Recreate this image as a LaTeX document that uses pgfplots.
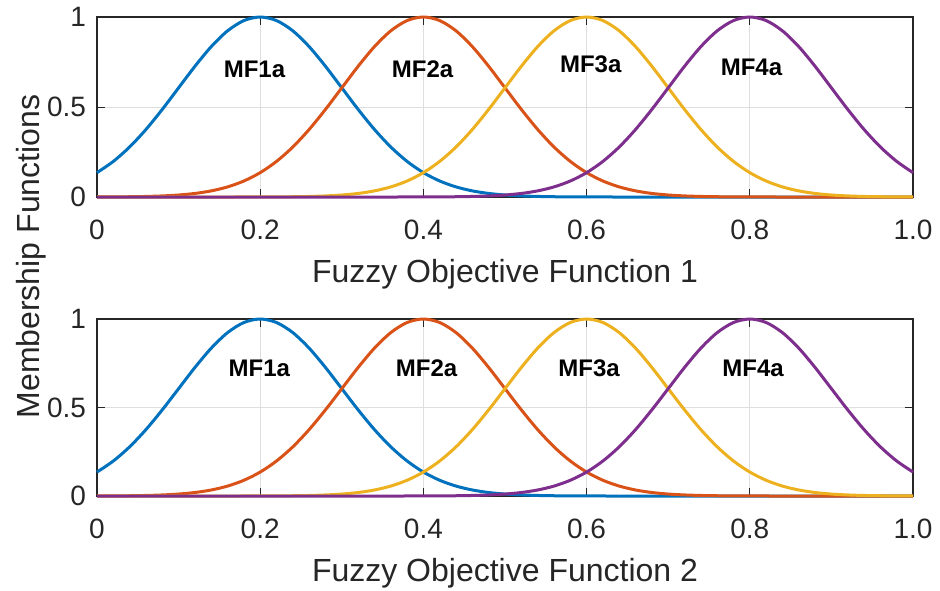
\documentclass[border=0pt]{standalone}
\usepackage{pgfplots}
\usepackage{pgfplotstable}
\usepackage{fontspec}
\setmainfont{Liberation Sans}
\pgfplotsset{compat=1.18}

\definecolor{mfblue}{rgb}{0,0.447,0.741}
\definecolor{mforange}{rgb}{0.850,0.325,0.098}
\definecolor{mfyellow}{rgb}{0.929,0.694,0.125}
\definecolor{mfpurple}{rgb}{0.494,0.184,0.556}
\definecolor{axgray}{rgb}{0.15,0.15,0.15}

% Gaussian membership functions (sigma = 0.1), centres 0.2, 0.4, 0.6, 0.8
\pgfplotstableread{
x    a      b      c      d
0.00 0.1353 0.0003 0.0000 0.0000
0.02 0.1979 0.0007 0.0000 0.0000
0.04 0.2780 0.0015 0.0000 0.0000
0.06 0.3753 0.0031 0.0000 0.0000
0.08 0.4868 0.0060 0.0000 0.0000
0.10 0.6065 0.0111 0.0000 0.0000
0.12 0.7261 0.0198 0.0000 0.0000
0.14 0.8353 0.0340 0.0000 0.0000
0.16 0.9231 0.0561 0.0000 0.0000
0.18 0.9802 0.0889 0.0001 0.0000
0.20 1.0000 0.1353 0.0003 0.0000
0.22 0.9802 0.1979 0.0007 0.0000
0.24 0.9231 0.2780 0.0015 0.0000
0.26 0.8353 0.3753 0.0031 0.0000
0.28 0.7261 0.4868 0.0060 0.0000
0.30 0.6065 0.6065 0.0111 0.0000
0.32 0.4868 0.7261 0.0198 0.0000
0.34 0.3753 0.8353 0.0340 0.0000
0.36 0.2780 0.9231 0.0561 0.0000
0.38 0.1979 0.9802 0.0889 0.0001
0.40 0.1353 1.0000 0.1353 0.0003
0.42 0.0889 0.9802 0.1979 0.0007
0.44 0.0561 0.9231 0.2780 0.0015
0.46 0.0340 0.8353 0.3753 0.0031
0.48 0.0198 0.7261 0.4868 0.0060
0.50 0.0111 0.6065 0.6065 0.0111
0.52 0.0060 0.4868 0.7261 0.0198
0.54 0.0031 0.3753 0.8353 0.0340
0.56 0.0015 0.2780 0.9231 0.0561
0.58 0.0007 0.1979 0.9802 0.0889
0.60 0.0003 0.1353 1.0000 0.1353
0.62 0.0001 0.0889 0.9802 0.1979
0.64 0.0000 0.0561 0.9231 0.2780
0.66 0.0000 0.0340 0.8353 0.3753
0.68 0.0000 0.0198 0.7261 0.4868
0.70 0.0000 0.0111 0.6065 0.6065
0.72 0.0000 0.0060 0.4868 0.7261
0.74 0.0000 0.0031 0.3753 0.8353
0.76 0.0000 0.0015 0.2780 0.9231
0.78 0.0000 0.0007 0.1979 0.9802
0.80 0.0000 0.0003 0.1353 1.0000
0.82 0.0000 0.0001 0.0889 0.9802
0.84 0.0000 0.0000 0.0561 0.9231
0.86 0.0000 0.0000 0.0340 0.8353
0.88 0.0000 0.0000 0.0198 0.7261
0.90 0.0000 0.0000 0.0111 0.6065
0.92 0.0000 0.0000 0.0060 0.4868
0.94 0.0000 0.0000 0.0031 0.3753
0.96 0.0000 0.0000 0.0015 0.2780
0.98 0.0000 0.0000 0.0007 0.1979
1.00 0.0000 0.0000 0.0003 0.1353
}\mfdata

\tikzset{
  mflabel/.style={font=\fontsize{12}{14}\selectfont\bfseries, text=black},
}

\pgfplotsset{
  mfaxis/.style={
    scale only axis,
    width=408pt,
    xmin=0, xmax=1, ymin=0, ymax=1,
    xtick={0,0.2,0.4,0.6,0.8,1.0},
    xticklabels={0,0.2,0.4,0.6,0.8,1.0},
    ytick={0,0.5,1},
    yticklabels={0,0.5,1},
    tick align=inside,
    major tick length=4pt,
    tick style={axgray, line width=0.5pt},
    axis line style={axgray, line width=0.6pt},
    grid=major,
    major grid style={gray!25, line width=0.5pt},
    ticklabel style={font=\fontsize{14}{16}\selectfont, text=axgray},
    /pgf/number format/assume math mode=true,
    xticklabel style={yshift=-8pt},
    yticklabel style={xshift=-2pt},
    xlabel style={font=\fontsize{16}{18}\selectfont, text=axgray, yshift=-3pt},
    clip=false,
    every axis plot/.append style={line width=1.5pt, no markers, smooth},
  },
}

\begin{document}
\begin{tikzpicture}
\useasboundingbox (-48.5pt,-196.5pt) rectangle (421.5pt,98.5pt);

\begin{axis}[mfaxis, height=90pt, at={(0pt,0pt)}, anchor=south west,
  xlabel={Fuzzy Objective Function 1}]
  \addplot[mfblue]   table[x=x, y=a] {\mfdata};
  \addplot[mforange] table[x=x, y=b] {\mfdata};
  \addplot[mfyellow] table[x=x, y=c] {\mfdata};
  \addplot[mfpurple] table[x=x, y=d] {\mfdata};
  \node[mflabel] at (axis cs:0.193,0.711) {MF1a};
  \node[mflabel] at (axis cs:0.399,0.711) {MF2a};
  \node[mflabel] at (axis cs:0.605,0.739) {MF3a};
  \node[mflabel] at (axis cs:0.802,0.722) {MF4a};
\end{axis}

\begin{axis}[mfaxis, height=88.5pt, at={(0pt,-149.5pt)}, anchor=south west,
  xlabel={Fuzzy Objective Function 2}]
  \addplot[mfblue]   table[x=x, y=a] {\mfdata};
  \addplot[mforange] table[x=x, y=b] {\mfdata};
  \addplot[mfyellow] table[x=x, y=c] {\mfdata};
  \addplot[mfpurple] table[x=x, y=d] {\mfdata};
  \node[mflabel] at (axis cs:0.199,0.723) {MF1a};
  \node[mflabel] at (axis cs:0.404,0.723) {MF2a};
  \node[mflabel] at (axis cs:0.603,0.723) {MF3a};
  \node[mflabel] at (axis cs:0.804,0.723) {MF4a};
\end{axis}

\node[rotate=90, font=\fontsize{16}{18}\selectfont, text=axgray]
  at (-33pt,-29.75pt) {Membership Functions};
\end{tikzpicture}
\end{document}
